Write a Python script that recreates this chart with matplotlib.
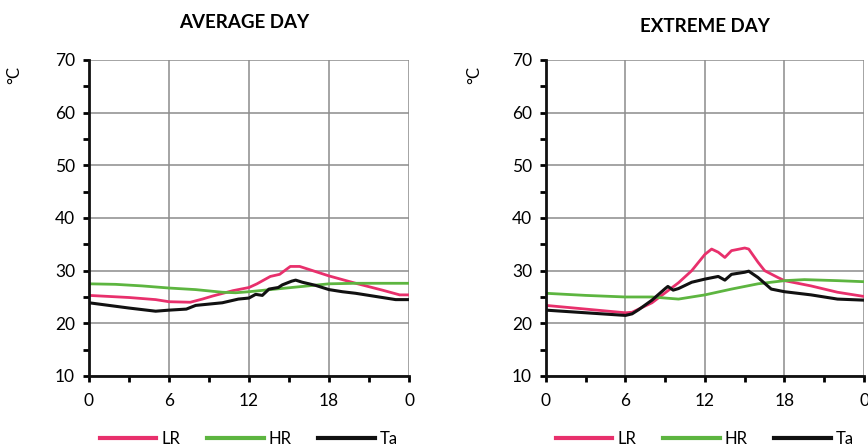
import matplotlib
matplotlib.use("Agg")
import matplotlib.pyplot as plt
from matplotlib.ticker import MultipleLocator

plt.rcParams["font.family"] = ["Lato", "DejaVu Sans"]

# hourly profiles (hours since midnight, temperature in degC)
avg_lr_h = [0, 3, 5, 6, 7.6, 8.5, 9.3, 10.8, 12, 12.6, 13.6, 14.3, 15.1, 15.8, 18, 20, 22, 23.3, 24]
avg_lr_t = [25.3, 24.9, 24.5, 24.1, 24.0, 24.6, 25.2, 26.2, 26.8, 27.5, 28.9, 29.3, 30.8, 30.8, 29.0, 27.6, 26.3, 25.4, 25.4]

avg_hr_h = [0, 2, 4, 6, 8, 10, 11, 12, 14, 16, 18, 20, 22, 24]
avg_hr_t = [27.5, 27.4, 27.1, 26.7, 26.4, 25.9, 25.8, 26.0, 26.5, 27.0, 27.5, 27.6, 27.6, 27.6]

avg_ta_h = [0, 1.5, 3, 5, 6, 7.3, 8, 10, 11.2, 12, 12.5, 13, 13.5, 14.2, 14.5, 15.2, 15.5, 16, 17, 18, 19, 20, 22, 23, 24]
avg_ta_t = [23.9, 23.4, 22.9, 22.3, 22.5, 22.7, 23.4, 23.9, 24.6, 24.8, 25.5, 25.3, 26.5, 26.8, 27.3, 28.0, 28.2, 27.8, 27.2, 26.4, 26.0, 25.7, 24.9, 24.5, 24.5]

ext_lr_h = [0, 3, 6, 6.5, 7, 8, 9, 10, 11, 12, 12.5, 13, 13.5, 14, 15, 15.3, 16, 16.5, 17.5, 18, 20, 22, 24]
ext_lr_t = [23.4, 22.7, 22.0, 22.1, 22.7, 23.9, 25.8, 27.7, 30.0, 33.1, 34.1, 33.5, 32.5, 33.8, 34.3, 34.1, 31.6, 30.0, 28.7, 28.1, 27.1, 25.9, 25.1]

ext_hr_h = [0, 3, 6, 8, 10, 12, 14, 16, 18, 19.5, 22, 24]
ext_hr_t = [25.7, 25.3, 25.0, 25.0, 24.6, 25.4, 26.5, 27.5, 28.1, 28.3, 28.1, 27.9]

ext_ta_h = [0, 3, 6, 6.5, 7, 8, 9, 9.2, 9.6, 10, 11, 12, 13, 13.5, 14, 15, 15.3, 16, 17, 18, 20, 22, 24]
ext_ta_t = [22.5, 22.0, 21.5, 21.8, 22.6, 24.4, 26.6, 27.0, 26.3, 26.6, 27.8, 28.4, 28.9, 28.2, 29.3, 29.7, 29.9, 28.7, 26.5, 26.0, 25.4, 24.6, 24.4]

hour_ticks = [0, 6, 12, 18, 24]
hour_labels = ["0", "6", "12", "18", "0"]

LR_COLOR = "#e8306c"
HR_COLOR = "#5db540"
TA_COLOR = "#111111"

fig = plt.figure(figsize=(8.68, 4.46), dpi=100)

panels = [
    ("AVERAGE DAY", [0.1025, 0.157, 0.3687, 0.7085], (244, 22), 14,
     (avg_lr_h, avg_lr_t), (avg_hr_h, avg_hr_t), (avg_ta_h, avg_ta_t)),
    ("EXTREME DAY", [0.629, 0.157, 0.3664, 0.7085], (705, 27), 474,
     (ext_lr_h, ext_lr_t), (ext_hr_h, ext_hr_t), (ext_ta_h, ext_ta_t)),
]

for title, rect, title_xy, ylab_x, lr, hr, ta in panels:
    ax = fig.add_axes(rect)
    ax.plot(*lr, color=LR_COLOR, lw=2.0, label="LR")
    ax.plot(*hr, color=HR_COLOR, lw=2.0, label="HR")
    ax.plot(*ta, color=TA_COLOR, lw=2.2, label="Ta")

    ax.set_xlim(0, 24)
    ax.set_ylim(10, 70)
    ax.set_xticks(hour_ticks)
    ax.set_xticklabels(hour_labels)
    ax.xaxis.set_minor_locator(MultipleLocator(3))
    ax.yaxis.set_major_locator(MultipleLocator(10))
    ax.yaxis.set_minor_locator(MultipleLocator(5))
    ax.grid(True, which="major", color="#8c8c8c", lw=1.1)
    ax.set_axisbelow(True)

    for side in ("top", "right"):
        ax.spines[side].set_visible(False)
    for side in ("left", "bottom"):
        ax.spines[side].set_linewidth(2.0)
        ax.spines[side].set_color("#111111")
    ax.tick_params(which="major", direction="out", length=4, width=2,
                   labelsize=12.5, pad=8)
    ax.tick_params(which="minor", direction="out", length=4, width=2)
    ax.tick_params(axis="y", pad=6)

    fig.text(title_xy[0] / 868, 1 - title_xy[1] / 446, title,
             fontsize=13.5, fontweight="bold", ha="center", va="center")
    fig.text(ylab_x / 868, 1 - 75 / 446, "°C", fontsize=12,
             rotation=90, ha="center", va="center")

    ax.legend(loc="center", bbox_to_anchor=(0.5, -0.2), ncol=3, frameon=False,
              fontsize=12, handlelength=3.4, columnspacing=1.6,
              handletextpad=0.3)
    for line in ax.get_legend().get_lines():
        line.set_linewidth(3)

fig.savefig("out.png", dpi=100)
